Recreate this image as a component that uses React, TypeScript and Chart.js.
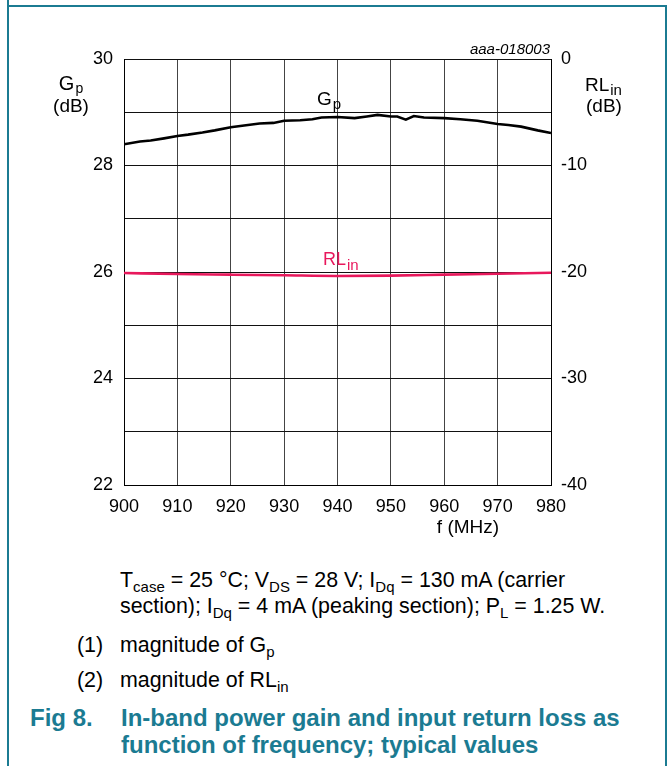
import React, { useEffect, useRef } from "react";
import { Chart, registerables } from "chart.js";
Chart.register(...registerables);

// ---- data ----
const gpFreq = [900, 903, 905, 907.5, 910, 912, 914.7, 917, 920, 922.5, 925.4, 928, 930, 933, 935.3, 937, 940, 943.2, 945.5, 947.5, 950, 951.2, 952.8, 954.3, 956.2, 960, 963, 966.2, 970, 972, 974.4, 977.5, 980];
const gpValues = [28.4, 28.45, 28.47, 28.51, 28.555, 28.58, 28.62, 28.66, 28.72, 28.75, 28.79, 28.8, 28.84, 28.85, 28.87, 28.9, 28.91, 28.89, 28.92, 28.95, 28.92, 28.92, 28.86, 28.93, 28.9, 28.89, 28.87, 28.84, 28.78, 28.76, 28.73, 28.66, 28.61];
const rlFreq = [900, 910, 920, 930, 940, 950, 960, 970, 980];
const rlValues = [-20.09, -20.19, -20.25, -20.31, -20.37, -20.34, -20.25, -20.16, -20.07];

const xTicksMin = 900;
const xTicksMax = 980;
const leftMin = 22;
const leftMax = 30;
const rightMin = -40;
const rightMax = 0;

const FONT = "'Liberation Sans', Arial, Helvetica, sans-serif";
const TEAL = "#1b7b92";
const PINK = "#e8185c";

function drawSub(
  ctx: CanvasRenderingContext2D,
  base: string,
  sub: string,
  x: number,
  y: number,
  size: number,
  subSize: number,
  color: string,
  align: "left" | "center",
  subDrop: number
) {
  ctx.font = `${size}px ${FONT}`;
  const wb = ctx.measureText(base).width;
  ctx.font = `${subSize}px ${FONT}`;
  const ws = ctx.measureText(sub).width;
  const total = wb + ws + 1;
  const x0 = align === "center" ? x - total / 2 : x;
  ctx.textAlign = "left";
  ctx.textBaseline = "alphabetic";
  ctx.fillStyle = color;
  ctx.font = `${size}px ${FONT}`;
  ctx.fillText(base, x0, y);
  ctx.font = `${subSize}px ${FONT}`;
  ctx.fillText(sub, x0 + wb + 1, y + subDrop);
}

const textPlugin = {
  id: "annotTexts",
  afterDraw(chart: any) {
    const ctx: CanvasRenderingContext2D = chart.ctx;
    ctx.save();
    // left axis title
    drawSub(ctx, "G", "p", 71, 90, 20, 14, "#000", "center", 3);
    ctx.font = `19px ${FONT}`;
    ctx.fillStyle = "#000";
    ctx.textAlign = "center";
    ctx.fillText("(dB)", 71, 112);
    // right axis title
    drawSub(ctx, "RL", "in", 585, 91, 19, 15, "#000", "left", 4);
    ctx.font = `19px ${FONT}`;
    ctx.fillStyle = "#000";
    ctx.textAlign = "left";
    ctx.fillText("(dB)", 586, 112);
    // series labels
    drawSub(ctx, "G", "p", 329, 105, 19, 15, "#000", "center", 4);
    drawSub(ctx, "RL", "in", 323, 265, 18, 15, PINK, "left", 5);
    // code
    ctx.font = `italic 15px ${FONT}`;
    ctx.fillStyle = "#000";
    ctx.textAlign = "right";
    ctx.fillText("aaa-018003", 550, 54);
    // x title
    ctx.font = `19px ${FONT}`;
    ctx.textAlign = "center";
    ctx.fillText("f (MHz)", 468, 533);
    ctx.restore();
  },
};

export default function App() {
  const ref = useRef<HTMLCanvasElement>(null);
  useEffect(() => {
    if (!ref.current) return;
    const chart = new Chart(ref.current, {
      type: "line",
      data: {
        datasets: [
          {
            label: "Gp",
            data: gpFreq.map((f, i) => ({ x: f, y: gpValues[i] })),
            borderColor: "#000",
            borderWidth: 2.6,
            pointRadius: 0,
            tension: 0,
            yAxisID: "y",
          },
          {
            label: "RLin",
            data: rlFreq.map((f, i) => ({ x: f, y: rlValues[i] })),
            borderColor: PINK,
            borderWidth: 2.6,
            pointRadius: 0,
            cubicInterpolationMode: "monotone",
            yAxisID: "y1",
          },
        ],
      },
      options: {
        animation: false,
        responsive: false,
        maintainAspectRatio: false,
        events: [],
        layout: { padding: { top: 59, left: 0, right: 0, bottom: 0 } },
        plugins: { legend: { display: false }, tooltip: { enabled: false } },
        scales: {
          x: {
            type: "linear",
            min: xTicksMin,
            max: xTicksMax,
            ticks: { stepSize: 10, color: "#000", font: { family: FONT, size: 18 }, padding: 11, maxRotation: 0 },
            grid: { color: "#444", lineWidth: 1, drawTicks: false },
            border: { color: "#000", width: 1 },
            afterFit: (s: any) => {
              s.height = 55;
            },
          },
          y: {
            position: "left",
            min: leftMin,
            max: leftMax,
            ticks: {
              stepSize: 1,
              color: "#000",
              font: { family: FONT, size: 18 },
              padding: 11,
              callback: (v: any) => (Number(v) % 2 === 0 ? String(v) : ""),
            },
            grid: { color: "#111", lineWidth: 1, drawTicks: false },
            border: { color: "#000", width: 1 },
            afterFit: (s: any) => {
              s.width = 124;
            },
          },
          y1: {
            position: "right",
            min: rightMin,
            max: rightMax,
            ticks: { stepSize: 10, color: "#000", font: { family: FONT, size: 18 }, padding: 10 },
            grid: { display: false, drawTicks: false },
            border: { color: "#000", width: 1 },
            afterFit: (s: any) => {
              s.width = 119;
            },
          },
        },
      },
      plugins: [textPlugin],
    } as any);
    return () => chart.destroy();
  }, []);

  const base: React.CSSProperties = {
    position: "absolute",
    fontFamily: FONT,
    fontSize: 21.4,
    color: "#000",
    whiteSpace: "nowrap",
    lineHeight: "26px",
  };
  const sub: React.CSSProperties = { fontSize: 15, position: "relative", top: 5 };
  const title: React.CSSProperties = {
    ...base,
    fontWeight: "bold",
    fontSize: 24,
    color: TEAL,
    lineHeight: "27px",
  };

  return (
    <div style={{ position: "absolute", left: 0, top: 0, width: 670, height: 766, background: "#fff", overflow: "hidden" }}>
      {/* frame */}
      <div style={{ position: "absolute", left: 7, top: 0, width: 2, height: 766, background: TEAL }} />
      <div style={{ position: "absolute", left: 7, top: 5, width: 660, height: 2, background: TEAL }} />
      <div style={{ position: "absolute", left: 665, top: 5, width: 2, height: 761, background: TEAL }} />
      <canvas ref={ref} width={670} height={540} style={{ position: "absolute", left: 0, top: 0, width: 670, height: 540 }} />
      <div style={{ ...base, left: 120, top: 567 }}>
        T<span style={sub}>case</span> = 25 °C; V<span style={sub}>DS</span> = 28 V; I<span style={sub}>Dq</span> = 130 mA (carrier
      </div>
      <div style={{ ...base, left: 120, top: 593 }}>
        section); I<span style={sub}>Dq</span> = 4 mA (peaking section); P<span style={sub}>L</span> = 1.25 W.
      </div>
      <div style={{ ...base, left: 77, top: 632 }}>(1)</div>
      <div style={{ ...base, left: 120, top: 632 }}>
        magnitude of G<span style={sub}>p</span>
      </div>
      <div style={{ ...base, left: 77, top: 667 }}>(2)</div>
      <div style={{ ...base, left: 120, top: 667 }}>
        magnitude of RL<span style={sub}>in</span>
      </div>
      <div style={{ ...title, left: 30, top: 704 }}>Fig 8.</div>
      <div style={{ ...title, left: 121, top: 704 }}>
        In-band power gain and input return loss as
        <br />
        function of frequency; typical values
      </div>
    </div>
  );
}
